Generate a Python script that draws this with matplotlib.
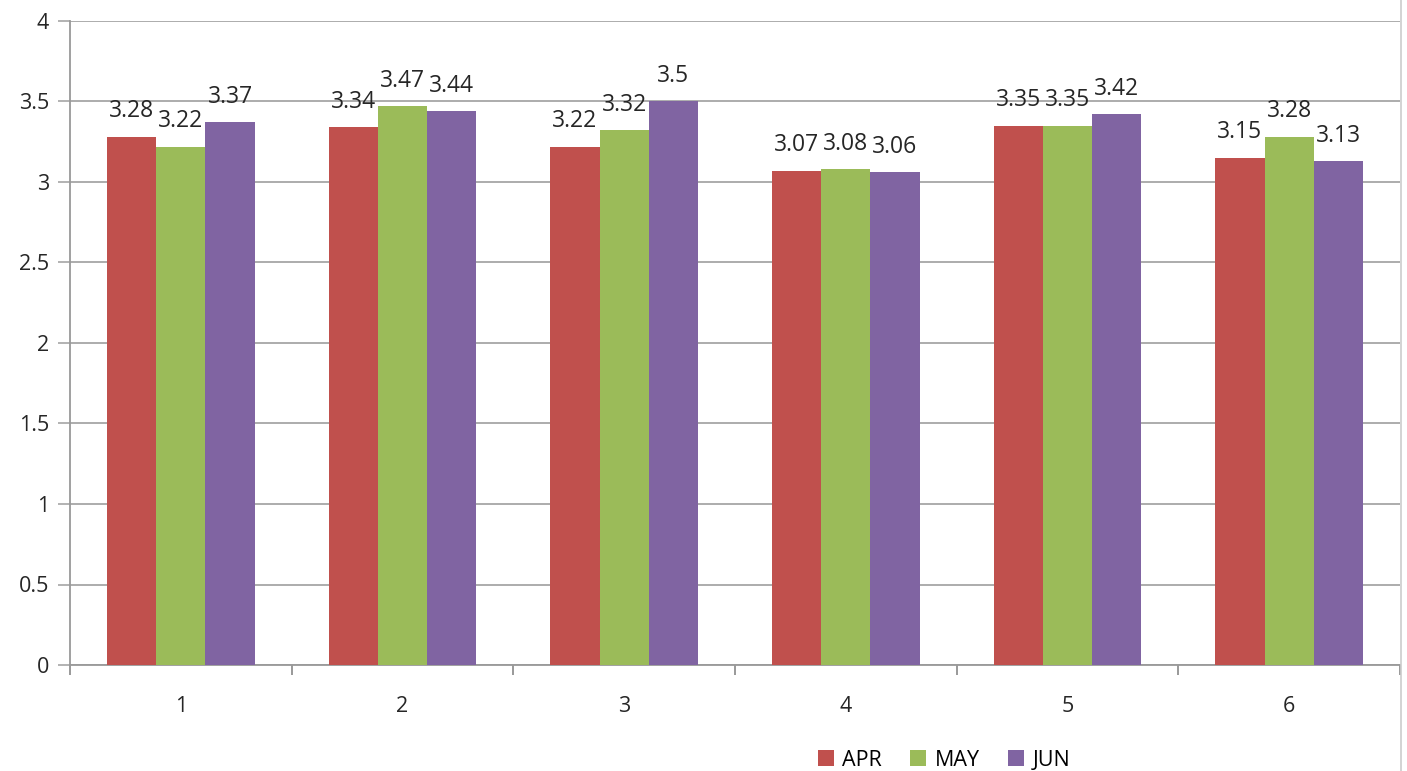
import numpy as np
import matplotlib
matplotlib.use("Agg")
import matplotlib.pyplot as plt
from matplotlib.lines import Line2D

# datos
categorias = ['1', '2', '3', '4', '5', '6']
apr = [3.28, 3.34, 3.22, 3.07, 3.35, 3.15]
may = [3.22, 3.47, 3.32, 3.08, 3.35, 3.28]
jun = [3.37, 3.44, 3.50, 3.06, 3.42, 3.13]
series = ['APR', 'MAY', 'JUN']
colores = ['#C0504D', '#9BBB59', '#8064A2']
yticks = [0, 0.5, 1, 1.5, 2, 2.5, 3, 3.5, 4]

plt.rcParams['font.family'] = ['Open Sans', 'DejaVu Sans']

fig = plt.figure(figsize=(14.07, 7.71), dpi=100)
ax = fig.add_axes([70 / 1407, 106 / 771, 1330 / 1407, 644 / 771])

x = np.arange(len(categorias))
ancho = 0.222
for i, (nombre, valores, color) in enumerate(zip(series, [apr, may, jun], colores)):
    pos = x + (i - 1) * ancho
    barras = ax.bar(pos, valores, width=ancho, color=color, label=nombre, zorder=3)
    for b, v in zip(barras, valores):
        ax.annotate(f'{v:g}', (b.get_x() + b.get_width() / 2, v),
                    xytext=(0, 14), textcoords='offset points',
                    ha='center', va='baseline', fontsize=16.5, color='#262626')

ax.set_xlim(-0.5, len(categorias) - 0.5)
ax.set_ylim(0, 4)
ax.set_yticks(yticks)
ax.set_yticklabels([f'{t:g}' for t in yticks])
ax.yaxis.grid(True, color='#a6a6a6', linewidth=1.3, zorder=0)

# ticks del eje x en los bordes de categoria
ax.set_xticks(np.arange(-0.5, len(categorias)), minor=False)
ax.set_xticklabels([])
ax.set_xticks(x, minor=True)
ax.set_xticklabels(categorias, minor=True)
ax.tick_params(axis='x', which='major', length=7, color='#888888', width=1.2, direction='out')
ax.tick_params(axis='x', which='minor', length=0, labelsize=15.5, pad=22, labelcolor='#262626')
ax.tick_params(axis='y', length=9, color='#a6a6a6', width=1.2, labelsize=15.5, pad=6, labelcolor='#262626')

for lado in ['top', 'right']:
    ax.spines[lado].set_visible(False)
for lado in ['left', 'bottom']:
    ax.spines[lado].set_color('#999999')
    ax.spines[lado].set_linewidth(1.3)

# borde derecho del grafico
fig.add_artist(Line2D([1401 / 1407, 1401 / 1407], [0, 1], color='#cccccc', linewidth=1.2))

ax.legend(loc='center', bbox_to_anchor=(944 / 1407, 11 / 771), bbox_transform=fig.transFigure,
          ncol=3, frameon=False, fontsize=15.5, handlelength=0.75, handleheight=0.75,
          handletextpad=0.4, columnspacing=1.3)

fig.savefig('out.png', dpi=100)
